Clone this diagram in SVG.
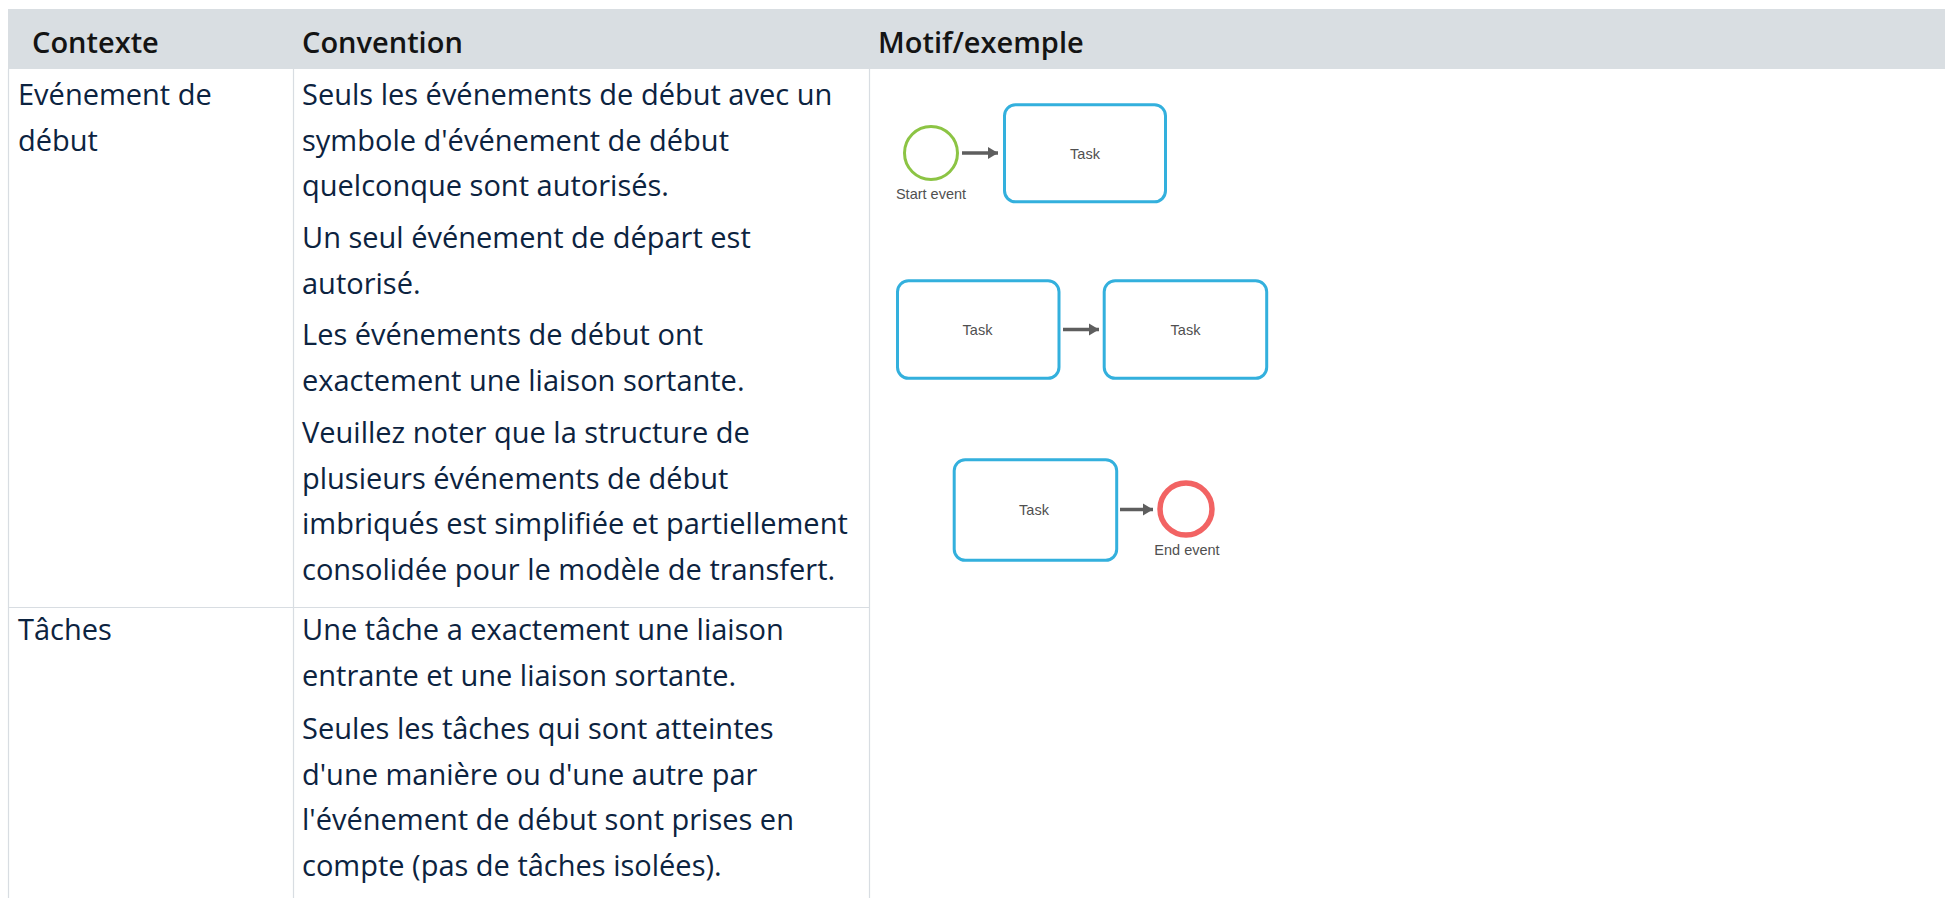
<svg xmlns="http://www.w3.org/2000/svg" width="1945" height="898" viewBox="0 0 1945 898">
  <defs>
    <style>
      .hdr { fill: #d9dee2; }
      .grid { stroke: #d8dde2; stroke-width: 1.2; fill: none; }
      .th { font-family: "Open Sans", "Noto Sans", sans-serif; font-size: 29px; font-weight: 600; fill: #141414; }
      .td { font-family: "Open Sans", "Noto Sans", sans-serif; font-size: 29px; fill: #0c2340; }
      .task { fill: #ffffff; stroke: #33b0dd; stroke-width: 3; }
      .start { fill: #ffffff; stroke: #8cc444; stroke-width: 3; }
      .end { fill: #ffffff; stroke: #f26363; stroke-width: 5.5; }
      .lbl { font-family: "Liberation Sans", Arial, sans-serif; font-size: 14.5px; fill: #505050; }
      .flow { stroke: #5e5e5e; stroke-width: 3.5; fill: none; }
    </style>
    <marker id="arrow" viewBox="0 0 10 12" refX="10" refY="6" markerWidth="3" markerHeight="3.6" markerUnits="strokeWidth" orient="auto">
      <path d="M0,0 L10,6 L0,12 z" fill="#5e5e5e"/>
    </marker>
  </defs>

  <rect width="1945" height="898" fill="#ffffff"/>

  <!-- table: header band and grid -->
  <g id="table">
    <rect class="hdr" x="8" y="9" width="1937" height="60"/>
    <line class="grid" x1="8.5" y1="69" x2="8.5" y2="898"/>
    <line class="grid" x1="293.5" y1="69" x2="293.5" y2="898"/>
    <line class="grid" x1="869.5" y1="69" x2="869.5" y2="898"/>
    <line class="grid" x1="8" y1="607.5" x2="869" y2="607.5"/>

    <text class="th" x="32" y="53">Contexte</text>
    <text class="th" x="302" y="53">Convention</text>
    <text class="th" x="878" y="53">Motif/exemple</text>
  </g>

  <!-- row 1 -->
  <g id="row-start-event">
    <text class="td" x="18" y="105">Evénement de</text>
    <text class="td" x="18" y="150.5">début</text>

    <text class="td" x="302" y="105">Seuls les événements de début avec un</text>
    <text class="td" x="302" y="150.5">symbole d'événement de début</text>
    <text class="td" x="302" y="196">quelconque sont autorisés.</text>
    <text class="td" x="302" y="248">Un seul événement de départ est</text>
    <text class="td" x="302" y="293.5">autorisé.</text>
    <text class="td" x="302" y="345">Les événements de début ont</text>
    <text class="td" x="302" y="390.5">exactement une liaison sortante.</text>
    <text class="td" x="302" y="443">Veuillez noter que la structure de</text>
    <text class="td" x="302" y="488.5">plusieurs événements de début</text>
    <text class="td" x="302" y="534">imbriqués est simplifiée et partiellement</text>
    <text class="td" x="302" y="579.5">consolidée pour le modèle de transfert.</text>
  </g>

  <!-- row 2 -->
  <g id="row-tasks">
    <text class="td" x="18" y="640">Tâches</text>

    <text class="td" x="302" y="640">Une tâche a exactement une liaison</text>
    <text class="td" x="302" y="685.5">entrante et une liaison sortante.</text>
    <text class="td" x="302" y="739">Seules les tâches qui sont atteintes</text>
    <text class="td" x="302" y="784.5">d'une manière ou d'une autre par</text>
    <text class="td" x="302" y="830">l'événement de début sont prises en</text>
    <text class="td" x="302" y="875.5">compte (pas de tâches isolées).</text>
  </g>

  <!-- example process fragments -->
  <g id="start-event">
    <circle class="start" cx="931" cy="153" r="26.5"/>
    <text class="lbl" x="931" y="199" text-anchor="middle">Start event</text>
  </g>
  <g id="task-1">
    <rect class="task" x="1004.5" y="104.8" width="161" height="97" rx="11"/>
    <text class="lbl" x="1085" y="159" text-anchor="middle">Task</text>
  </g>
  <g id="task-2">
    <rect class="task" x="897.5" y="280.8" width="161.5" height="97.5" rx="11"/>
    <text class="lbl" x="977.5" y="335" text-anchor="middle">Task</text>
  </g>
  <g id="task-3">
    <rect class="task" x="1104.2" y="280.8" width="162.5" height="97.5" rx="11"/>
    <text class="lbl" x="1185.5" y="335" text-anchor="middle">Task</text>
  </g>
  <g id="task-4">
    <rect class="task" x="954.2" y="459.8" width="162.5" height="100.5" rx="11"/>
    <text class="lbl" x="1034" y="515" text-anchor="middle">Task</text>
  </g>
  <g id="end-event">
    <circle class="end" cx="1186" cy="509" r="26"/>
    <text class="lbl" x="1187" y="555" text-anchor="middle">End event</text>
  </g>

  <!-- sequence flows -->
  <g id="connectors">
    <line class="flow" x1="962" y1="153" x2="998" y2="153" marker-end="url(#arrow)"/>
    <line class="flow" x1="1063" y1="329.5" x2="1099" y2="329.5" marker-end="url(#arrow)"/>
    <line class="flow" x1="1120" y1="509.5" x2="1153" y2="509.5" marker-end="url(#arrow)"/>
  </g>
</svg>
